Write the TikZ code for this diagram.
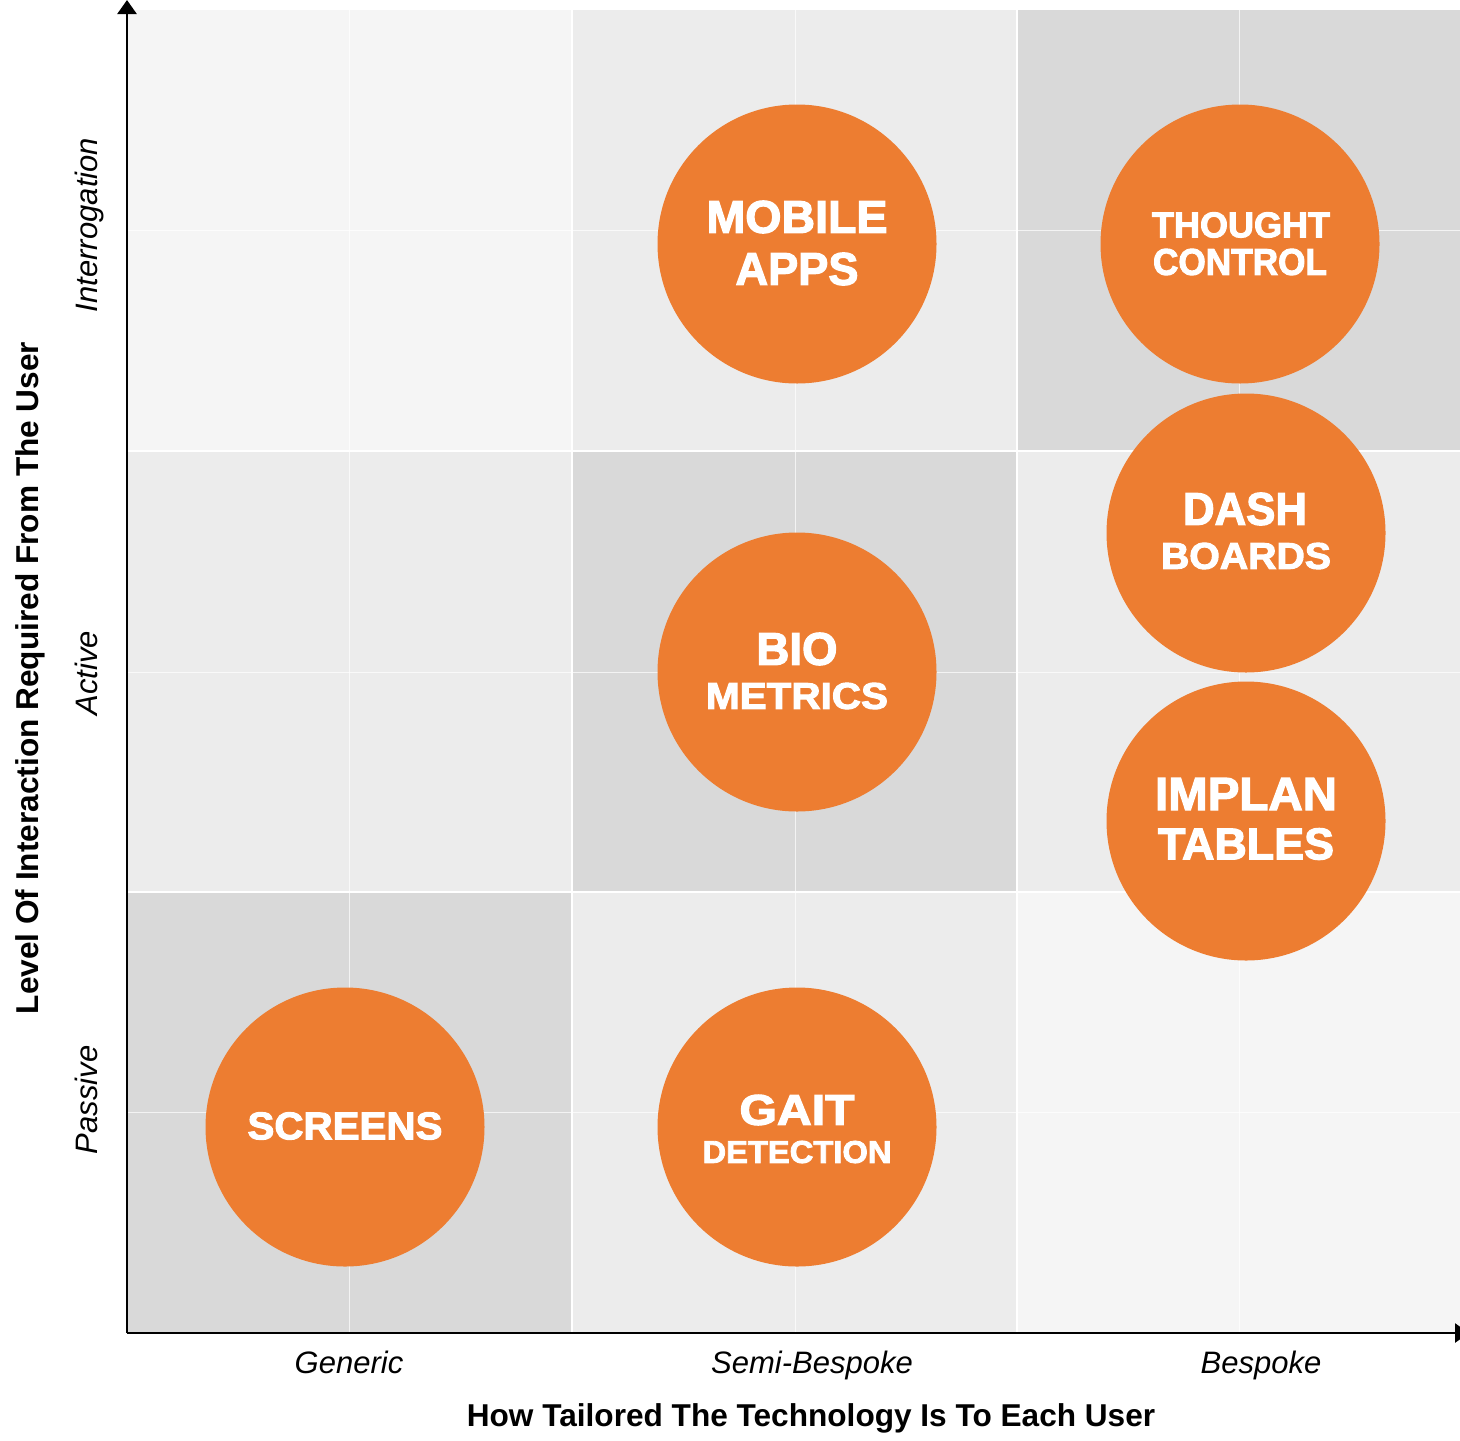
\documentclass[tikz,border=0pt]{standalone}
\usepackage{fontspec}
\setmainfont{Liberation Sans}
\newfontfamily\heavy{Liberation Sans}[FakeBold=2.6]
\usetikzlibrary{arrows.meta}

% one unit of the drawing grid
\newdimen\pxu \pxu=0.5pt
% a line of bubble text, scaled to a given width and cap height
\newcommand\capline[3]{\resizebox{#1\pxu}{#2\pxu}{\heavy\bfseries #3}}

\definecolor{cellA}{HTML}{F5F5F5}
\definecolor{cellB}{HTML}{ECECEC}
\definecolor{cellC}{HTML}{D9D9D9}
\definecolor{bubble}{HTML}{ED7D31}

\tikzset{
  bubblenode/.style={circle, fill=bubble, draw=none, minimum size=279\pxu, inner sep=0pt},
  captext/.style={inner sep=0pt, text=white},
  axisline/.style={line width=1.3pt, black, -{Triangle[width=9.5pt,length=7pt]}},
  gridline/.style={white, line width=1pt},
  subline/.style={white, line width=0.5pt, opacity=0.7},
  ticklabel/.style={inner sep=0pt, anchor=base, font=\fontsize{15.5pt}{18pt}\selectfont\itshape},
  axistitle/.style={inner sep=0pt, anchor=base, font=\fontsize{15.8pt}{18pt}\selectfont\bfseries},
}

\begin{document}
\begin{tikzpicture}[x=0.5pt,y=-0.5pt]
\clip (0,0) rectangle (1460,1440);
\fill[white] (0,0) rectangle (1460,1440);

% shaded cells of the 3x3 matrix
\fill[cellA] (127,10)  rectangle (572,451);
\fill[cellB] (572,10)  rectangle (1017,451);
\fill[cellC] (1017,10) rectangle (1460,451);
\fill[cellB] (127,451) rectangle (572,892);
\fill[cellC] (572,451) rectangle (1017,892);
\fill[cellB] (1017,451) rectangle (1460,892);
\fill[cellC] (127,892) rectangle (572,1333);
\fill[cellB] (572,892) rectangle (1017,1333);
\fill[cellA] (1017,892) rectangle (1460,1333);

% thin lines halving each cell
\foreach \gx in {349,795,1239} \draw[subline] (\gx,10) -- (\gx,1333);
\foreach \gy in {230,672,1112} \draw[subline] (127,\gy) -- (1460,\gy);
% cell borders
\foreach \gx in {572,1017} \draw[gridline] (\gx,10) -- (\gx,1333);
\foreach \gy in {451,892} \draw[gridline] (127,\gy) -- (1460,\gy);

% axes
\coordinate (origin) at (127,1333);
\coordinate (ytip) at (127,0);
\coordinate (xtip) at (1469,1333);
\draw[axisline] (origin) -- (ytip);
\draw[axisline] (origin) -- (xtip);

% bubbles
\node[bubblenode] (mobile)  at (797,244)  {};
\node[bubblenode] (thought) at (1240,244) {};
\node[bubblenode] (dash)    at (1246,533) {};
\node[bubblenode] (bio)     at (797,672)  {};
\node[bubblenode] (implan)  at (1246,821) {};
\node[bubblenode] (screens) at (345,1127) {};
\node[bubblenode] (gait)    at (797,1127) {};

% bubble texts
\node[captext] (mobile1)  at (797,217)  {\capline{181}{32}{MOBILE}};
\node[captext] (mobile2)  at (797,269)  {\capline{123}{32}{APPS}};
\node[captext] (thought1) at (1241,225) {\capline{178}{25}{THOUGHT}};
\node[captext] (thought2) at (1240,262) {\capline{174}{26}{CONTROL}};
\node[captext] (dash1)    at (1245,509) {\capline{124}{32}{DASH}};
\node[captext] (dash2)    at (1246,556) {\capline{170}{26}{BOARDS}};
\node[captext] (bio1)     at (797,649)  {\capline{81}{32}{BIO}};
\node[captext] (bio2)     at (797,696)  {\capline{182}{26}{METRICS}};
\node[captext] (implan1)  at (1246,794) {\capline{182}{32}{IMPLAN}};
\node[captext] (implan2)  at (1246,844) {\capline{176}{31}{TABLES}};
\node[captext] (screens1) at (345,1126) {\capline{195}{27}{SCREENS}};
\node[captext] (gait1)    at (797,1110) {\capline{115}{30}{GAIT}};
\node[captext] (gait2)    at (797,1152) {\capline{189}{22}{DETECTION}};

% axis labels
\node[ticklabel] (generic) at (349,1373)  {Generic};
\node[ticklabel] (semi)    at (812,1373)  {Semi-Bespoke};
\node[ticklabel] (bespoke) at (1261,1373) {Bespoke};
\node[axistitle] (xtitle)  at (811,1426)  {How Tailored The Technology Is To Each User};

\node[ticklabel, rotate=90] (interrogation) at (97,225)  {Interrogation};
\node[ticklabel, rotate=90] (active)        at (97,673)  {Active};
\node[ticklabel, rotate=90] (passive)       at (97,1100) {Passive};
\node[axistitle, rotate=90] (ytitle)        at (39,678)  {Level Of Interaction Required From The User};
\end{tikzpicture}
\end{document}
